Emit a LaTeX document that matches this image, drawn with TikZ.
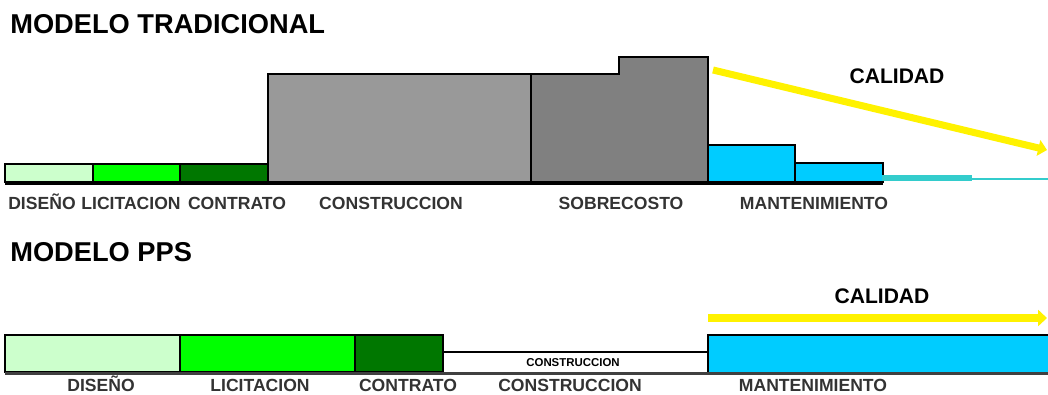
\documentclass[tikz,border=0pt]{standalone}
\usepackage{fontspec}
\setmainfont{Liberation Sans}
\usepackage{tikz}
\usetikzlibrary{arrows.meta}
\definecolor{claro}{HTML}{CCFFCC}
\definecolor{verde}{HTML}{00FF00}
\definecolor{oscuro}{HTML}{007700}
\definecolor{gris}{HTML}{999999}
\definecolor{grisos}{HTML}{808080}
\definecolor{celeste}{HTML}{00CCFF}
\definecolor{turq}{HTML}{33CCCC}

\begin{document}
\begin{tikzpicture}[x=0.2mm,y=-0.2mm,line join=miter]
  \tikzstyle{etapa}=[draw=black,line width=1.1pt]
  \tikzstyle{titulo}=[anchor=west,inner sep=0pt,font=\bfseries\fontsize{15.5}{18}\selectfont]
  \tikzstyle{fase}=[anchor=base,inner sep=1pt,text=black!80,font=\bfseries\fontsize{10}{12}\selectfont]
  \tikzstyle{calidad}=[yellow,line width=4pt,-{Triangle[length=5pt,width=9pt]}]
  \tikzstyle{leyenda}=[font=\bfseries\fontsize{12}{14}\selectfont]

  \clip (0,0) rectangle (1048,394);

  % modelo tradicional
  \node[titulo] (T1) at (10,24) {MODELO TRADICIONAL};
  \draw[etapa,fill=claro] (5,164) rectangle (93,182);
  \draw[etapa,fill=verde] (93,164) rectangle (180,182);
  \draw[etapa,fill=oscuro] (180,164) rectangle (268,182);
  \draw[etapa,fill=gris] (268,183) |- (531,74) -- (531,183);
  \draw[etapa,fill=grisos] (531,183) |- (619,74) |- (708,57) -- (708,183);
  \draw[etapa,fill=celeste] (708,183) |- (795,145) -- (795,183);
  \draw[etapa,fill=celeste] (795,183) |- (883,163) -- (883,183);
  \draw[line width=2pt] (5,183) -- (883,183);
  \draw[turq,line width=3pt] (882,178) -- (972,178);
  \draw[turq,line width=1.2pt] (972,179) -- (1048,179);
  \draw[calidad] (713,70) -- (1047,150);
  \node[leyenda] (C1) at (897,76) {CALIDAD};

  \node[fase] (D1) at (42,209) {DISEÑO};
  \node[fase] (L1) at (131,209) {LICITACION};
  \node[fase,fill=white] (K1) at (237,209) {CONTRATO};
  \node[fase] (S1) at (391,209) {CONSTRUCCION};
  \node[fase] (R1) at (621,209) {SOBRECOSTO};
  \node[fase] (M1) at (814,209) {MANTENIMIENTO};

  % modelo pps
  \node[titulo] (T2) at (10,252) {MODELO PPS};
  \draw[etapa,fill=claro] (5,335) rectangle (180,372);
  \draw[etapa,fill=verde] (180,335) rectangle (355,372);
  \draw[etapa,fill=oscuro] (355,335) rectangle (443,372);
  \draw[etapa] (443,352) -- (708,352);
  \draw[etapa,fill=celeste] (708,372) |- (1052,335) -- (1052,372);
  \draw[black!75,line width=1.7pt] (5,373) -- (1048,373);
  \node[inner sep=0pt,font=\bfseries\fontsize{6.5}{7}\selectfont] (S0) at (573,363) {CONSTRUCCION};
  \draw[calidad] (708,318) -- (1047,318);
  \node[leyenda] (C2) at (882,296) {CALIDAD};

  \node[fase] (D2) at (101,391) {DISEÑO};
  \node[fase] (L2) at (260,391) {LICITACION};
  \node[fase] (K2) at (408,391) {CONTRATO};
  \node[fase] (S2) at (570,391) {CONSTRUCCION};
  \node[fase] (M2) at (813,391) {MANTENIMIENTO};
\end{tikzpicture}
\end{document}
